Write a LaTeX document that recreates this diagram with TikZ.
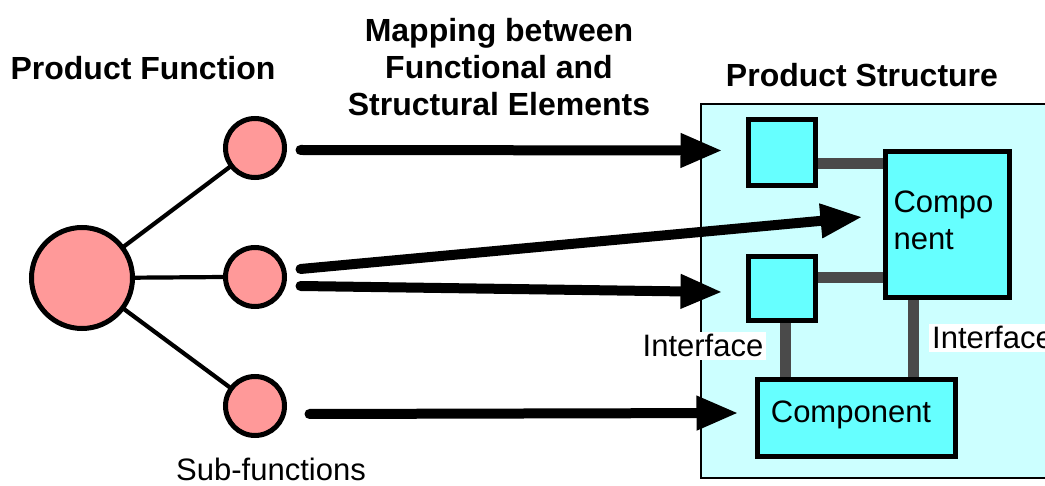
\documentclass[tikz,border=0pt]{standalone}
\usepackage{fontspec}
\setmainfont{Liberation Sans}
\usetikzlibrary{arrows.meta,calc}

\definecolor{funcpink}{HTML}{FF9999}
\definecolor{compcyan}{HTML}{66FFFF}
\definecolor{structbg}{HTML}{CCFFFF}
\definecolor{linkgray}{HTML}{4A4A4A}

\tikzset{
  fn/.style={circle, draw=black, line width=5pt, fill=funcpink, inner sep=0pt, outer sep=0pt},
  comp/.style={rectangle, draw=black, line width=5pt, fill=compcyan, inner sep=0pt, outer sep=0pt},
  tree/.style={line width=4.2pt, black},
  map/.style={line width=10pt, black, line cap=round,
    -{Triangle[length=42pt, width=32pt]}},
  link/.style={line width=11pt, linkgray},
  title/.style={font=\fontsize{32}{37}\selectfont\bfseries, anchor=base},
  lbl/.style={font=\fontsize{31}{37}\selectfont, anchor=base},
}

\begin{document}
\begin{tikzpicture}[x=1pt, y=-1pt]
\useasboundingbox (0,0) rectangle (1045,486);
\clip (0,0) rectangle (1045,486);

% product structure panel (runs off the right edge)
\draw[line width=2.5pt, fill=structbg] (701,104) rectangle (1080,478);

% function tree
\node[fn, minimum size=101pt] (pf) at (82,278) {};
\node[fn, minimum size=59pt] (s1) at (255,148) {};
\node[fn, minimum size=59pt] (s2) at (255,277) {};
\node[fn, minimum size=59pt] (s3) at (255,406) {};

% tree branches
\draw[tree] ($(pf)!52pt!(s2)$) -- (s2.west);
\draw[tree] ($(pf)!52pt!(s1)$) -- ($(s1)!30pt!(pf)$);
\draw[tree] ($(pf)!52pt!(s3)$) -- ($(s3)!30pt!(pf)$);

% interface attachment points
\coordinate (la) at (818,164);
\coordinate (lb) at (818,278);
\coordinate (lc) at (785,322);
\coordinate (ld) at (913,298);

% components
\node[comp, minimum width=67pt, minimum height=66pt] (sq1) at (782,152.5) {};
\node[comp, minimum width=67pt, minimum height=64pt] (sq2) at (782,288.5) {};
\node[comp, minimum width=124pt, minimum height=146pt] (bigc) at (947.5,224.5) {};
\node[comp, minimum width=198pt, minimum height=77pt] (botc) at (856.5,418) {};

% interfaces
\draw[link] (la) -- (la -| bigc.west);
\draw[link] (lb) -- (lb -| bigc.west);
\draw[link] (lc) -- (lc |- botc.north);
\draw[link] (ld) -- (ld |- botc.north);
% redraw borders over link ends
\draw[line width=5pt] (sq1.north west) rectangle (sq1.south east);
\draw[line width=5pt] (sq2.north west) rectangle (sq2.south east);
\draw[line width=5pt] (bigc.north west) rectangle (bigc.south east);
\draw[line width=5pt] (botc.north west) rectangle (botc.south east);

% mapping arrows
\draw[map] ($(s1.east)+(16,2)$) -- ($(sq1.west)+(-26,-2)$);
\draw[map] ($(s2.east)+(16,-8)$) -- ($(bigc.west)+(-23,-7.5)$);
\draw[map] ($(s2.east)+(16,9)$) -- ($(sq2.west)+(-26,3.5)$);
\draw[map] ($(s3.east)+(25,8)$) -- ($(botc.west)+(-19,-5)$);

% titles
\node[title] (tpf) at (143,80) {Product Function};
\node[title] (tm1) at (499,42) {Mapping between};
\node[title] (tm2) at (499,79) {Functional and};
\node[title] (tm3) at (499,116) {Structural Elements};
\node[title] (tps) at (862,87) {Product Structure};

% labels
\node[lbl, anchor=base west] (cp1) at (890,213) {Compo};
\node[lbl, anchor=base west] (cp2) at (890,250) {nent};
\node[lbl] (cp3) at (851,423) {Component};
\node[lbl, fill=white, inner sep=3pt] (if1) at (703,357) {Interface};
\node[lbl, anchor=base west, fill=white, inner sep=3pt] (if2) at (929,349) {Interface};
\node[lbl] (sf) at (271,480) {Sub-functions};
\end{tikzpicture}
\end{document}
